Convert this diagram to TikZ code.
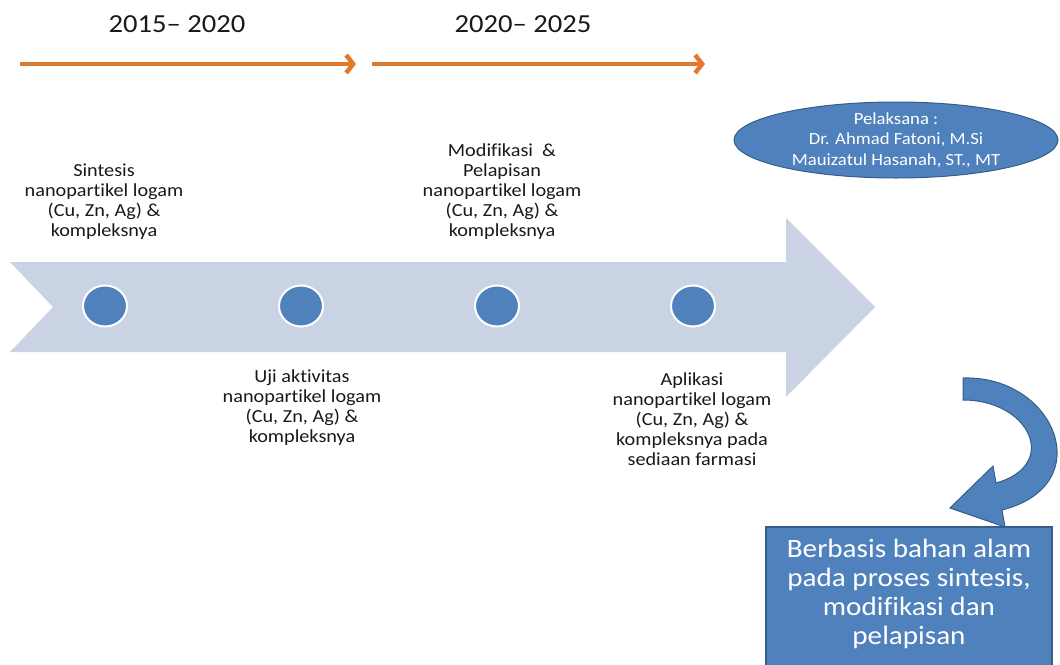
\documentclass[tikz,border=0pt]{standalone}
\usepackage{fontspec}
\setmainfont{Carlito}[FakeStretch=1.1, Ligatures=NoCommon]
\usepackage{xcolor}
\usepackage{tikz}
\usetikzlibrary{positioning,arrows.meta,shapes.geometric,calc}

\definecolor{spanorange}{RGB}{227,121,43}
\definecolor{bandgray}{RGB}{201,211,228}
\definecolor{stageblue}{RGB}{79,129,189}
\definecolor{edgeblue}{RGB}{56,93,138}

\begin{document}
\begin{tikzpicture}[x=1pt,y=-1pt,
    period/.style={font=\fontsize{26}{30}\selectfont, text=black!90},
    span/.style={spanorange, line width=4.5pt, -{Straight Barb[length=7pt,width=18pt]}},
    dot/.style={ellipse, fill=stageblue, draw=white, line width=2pt, minimum width=44pt, minimum height=41pt, inner sep=0pt},
    stage/.style={align=center, font=\fontsize{18.4}{20}\selectfont, text=black!90, inner sep=0pt},
    team/.style={ellipse, fill=stageblue, draw=edgeblue, line width=1pt, minimum width=324pt, minimum height=76pt, inner sep=0pt},
    teamtext/.style={align=center, text=white, font=\fontsize{17}{20.5}\selectfont, inner sep=0pt},
    basisbox/.style={rectangle, fill=stageblue, draw=edgeblue, line width=1.5pt, minimum width=286pt, minimum height=160pt, inner sep=0pt},
    basistext/.style={align=center, text=white, font=\fontsize{26.5}{29}\selectfont, inner sep=0pt}
]
    % Frame
    \useasboundingbox (0,0) rectangle (1060,664);
    \clip (0,0) rectangle (1060,664);

    % Periods
    \node[period] (p1) at (177,24) {2015– 2020};
    \node[period] (p2) at (523,24) {2020– 2025};
    \coordinate (a1) at (20,64);
    \coordinate (b1) at (356,64);
    \coordinate (a2) at (372,64);
    \coordinate (b2) at (705,64);
    \draw[span] (a1) -- (b1);
    \draw[span] (a2) -- (b2);

    % Timeline band
    \fill[bandgray] (10,262) -- (786,262) -- (786,218) -- (875,307)
        -- (786,397) -- (786,352) -- (10,352) -- (53,307) -- cycle;

    % Stages
    \foreach \i/\x in {1/105,2/301,3/497,4/693}
        \node[dot] (s\i) at (\x,306) {};

    \node[stage] (t1) at (104,202) {Sintesis\\nanopartikel logam\\(Cu, Zn, Ag) \&\\kompleksnya};
    \node[stage] (t2) at (302,408) {Uji aktivitas\\nanopartikel logam\\(Cu, Zn, Ag) \&\\kompleksnya};
    \node[stage] (t3) at (502,192) {Modifikasi~ \&\\Pelapisan\\nanopartikel logam\\(Cu, Zn, Ag) \&\\kompleksnya};
    \node[stage] (t4) at (692,419) {Aplikasi\\nanopartikel logam\\(Cu, Zn, Ag) \&\\kompleksnya pada\\sediaan farmasi};

    % Team
    \node[team] (team) at (896,140) {};
    \node[teamtext] (teamlist) at (team.center) {Pelaksana :\\Dr. Ahmad Fatoni, M.Si\\Mauizatul Hasanah, ST., MT};

    % Curved arrow
    \filldraw[fill=stageblue, draw=edgeblue, line width=1pt] (963,378)
        .. controls (1055,375) and (1100,485) .. (1002,510) -- (1005,527)
        -- (950,508) -- (993,466) -- (996,483)
        .. controls (1060,465) and (1030,400) .. (963,400) -- cycle;

    % Basis
    \node[basisbox] (basis) at (909,607) {};
    \node[basistext] (basistxt) at (909,594) {Berbasis bahan alam\\pada proses sintesis,\\modifikasi dan\\pelapisan};
\end{tikzpicture}
\end{document}
